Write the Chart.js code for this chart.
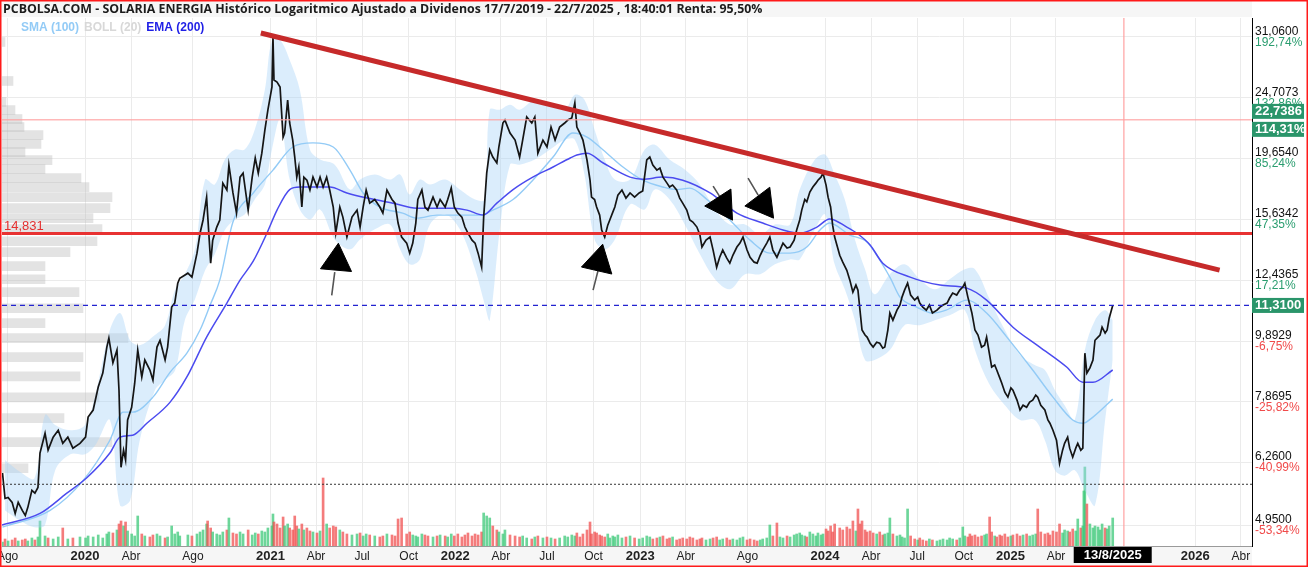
<!DOCTYPE html>
<html>
<head>
<meta charset="utf-8">
<title>Solaria Energia - PCBOLSA</title>
<script src="https://cdn.jsdelivr.net/npm/chart.js@4.4.0/dist/chart.umd.min.js"></script>
<style>
  html, body { margin: 0; padding: 0; background: #fff; }
  #wrap { width: 1308px; height: 567px; }
</style>
</head>
<body>
<div id="wrap"><canvas id="solariaChart" width="1308" height="567"></canvas></div>
<script>
// Closing prices (log chart, adjusted for dividends)
const priceDates = [
  '2019-07-22','2019-07-27','2019-08-02','2019-08-10','2019-08-16','2019-08-22','2019-08-30','2019-09-05','2019-09-10','2019-09-18','2019-09-24','2019-09-30','2019-10-04','2019-10-14','2019-10-20','2019-10-30','2019-11-09','2019-11-18','2019-11-28','2019-12-08','2019-12-22',
  '2020-01-02','2020-01-07','2020-01-17','2020-01-27','2020-02-05','2020-02-13','2020-02-17','2020-02-25','2020-03-04','2020-03-08','2020-03-12','2020-03-17','2020-03-21','2020-03-25','2020-04-02','2020-04-08','2020-04-14','2020-04-22','2020-04-28','2020-05-08','2020-05-14','2020-05-22','2020-05-28','2020-06-07','2020-06-12','2020-06-20','2020-06-26','2020-07-02','2020-07-06','2020-07-22','2020-07-30','2020-08-09','2020-08-15','2020-08-21','2020-08-28','2020-08-30','2020-09-05','2020-09-09','2020-09-17','2020-09-23','2020-09-29','2020-10-07','2020-10-11','2020-10-19','2020-10-26','2020-11-02','2020-11-08','2020-11-18','2020-11-26','2020-12-02','2020-12-08','2020-12-15','2020-12-21','2020-12-27',
  '2021-01-04','2021-01-06','2021-01-08','2021-01-14','2021-01-20','2021-01-26','2021-01-29','2021-02-04','2021-02-08','2021-02-14','2021-02-18','2021-02-22','2021-02-26','2021-03-04','2021-03-08','2021-03-14','2021-03-20','2021-03-26','2021-04-03','2021-04-09','2021-04-15','2021-04-22','2021-04-28','2021-05-05','2021-05-10','2021-05-18','2021-05-24','2021-06-01','2021-06-11','2021-06-21','2021-06-27','2021-07-03','2021-07-09','2021-07-16','2021-07-26','2021-08-05','2021-08-11','2021-08-19','2021-08-29','2021-09-04','2021-09-10','2021-09-17','2021-09-27','2021-10-03','2021-10-09','2021-10-15','2021-10-19','2021-10-27','2021-11-02','2021-11-08','2021-11-18','2021-11-26','2021-12-02','2021-12-12','2021-12-17','2021-12-24','2021-12-30',
  '2022-01-06','2022-01-14','2022-01-20','2022-01-26','2022-02-03','2022-02-09','2022-02-15','2022-02-22','2022-02-26','2022-03-04','2022-03-10','2022-03-16','2022-03-24','2022-03-28','2022-04-05','2022-04-09','2022-04-19','2022-04-29','2022-05-08','2022-05-14','2022-05-22','2022-06-01','2022-06-07','2022-06-13','2022-06-23','2022-07-01','2022-07-09','2022-07-17','2022-07-26','2022-08-05','2022-08-11','2022-08-19','2022-08-25','2022-08-29','2022-09-04','2022-09-10','2022-09-18','2022-09-24','2022-09-27','2022-10-03','2022-10-07','2022-10-13','2022-10-17','2022-10-23','2022-10-29','2022-11-02','2022-11-08','2022-11-12','2022-11-18','2022-11-26','2022-12-04','2022-12-12','2022-12-21','2022-12-30',
  '2023-01-06','2023-01-14','2023-01-20','2023-01-26','2023-02-03','2023-02-09','2023-02-15','2023-02-23','2023-02-28','2023-03-06','2023-03-14','2023-03-20','2023-03-26','2023-04-03','2023-04-09','2023-04-15','2023-04-23','2023-04-29','2023-05-03','2023-05-11','2023-05-19','2023-05-25','2023-06-01','2023-06-07','2023-06-13','2023-06-21','2023-06-27','2023-07-03','2023-07-11','2023-07-17','2023-07-23','2023-07-31','2023-08-06','2023-08-14','2023-08-20','2023-08-26','2023-08-31','2023-09-08','2023-09-14','2023-09-20','2023-09-28','2023-10-04','2023-10-10','2023-10-18','2023-10-24','2023-11-01','2023-11-06','2023-11-12','2023-11-16','2023-11-22','2023-11-26','2023-12-02','2023-12-08','2023-12-14','2023-12-18','2023-12-24','2023-12-28',
  '2024-01-03','2024-01-07','2024-01-12','2024-01-16','2024-01-20','2024-01-30','2024-02-05','2024-02-13','2024-02-19','2024-02-25','2024-03-02','2024-03-06','2024-03-10','2024-03-14','2024-03-20','2024-03-24','2024-03-30','2024-04-05','2024-04-12','2024-04-18','2024-04-24','2024-04-28','2024-05-04','2024-05-08','2024-05-14','2024-05-22','2024-05-28','2024-06-01','2024-06-06','2024-06-12','2024-06-18','2024-06-26','2024-07-02','2024-07-06','2024-07-12','2024-07-19','2024-07-25','2024-07-31','2024-08-09','2024-08-15','2024-08-21','2024-08-29','2024-09-03','2024-09-09','2024-09-17','2024-09-23','2024-09-29','2024-10-03','2024-10-09','2024-10-13','2024-10-17','2024-10-23','2024-10-29','2024-11-05','2024-11-11','2024-11-15','2024-11-21','2024-11-25','2024-12-01','2024-12-05','2024-12-11','2024-12-15','2024-12-21','2024-12-27',
  '2025-01-02','2025-01-06','2025-01-14','2025-01-20','2025-01-26','2025-02-02','2025-02-08','2025-02-14','2025-02-20','2025-02-24','2025-03-02','2025-03-10','2025-03-16','2025-03-20','2025-03-26','2025-04-02','2025-04-08','2025-04-14','2025-04-18','2025-04-24','2025-04-28','2025-05-04','2025-05-10','2025-05-14','2025-05-20','2025-05-24','2025-05-26','2025-05-28','2025-06-01','2025-06-07','2025-06-13','2025-06-17','2025-06-23','2025-06-27','2025-07-01','2025-07-07','2025-07-11','2025-07-15','2025-07-22'
];
const priceClose = [
  6.02,5.47,5.49,5.39,5.17,5.39,5.23,5.13,5.29,5.64,5.58,5.70,6.49,6.99,6.56,6.89,7.07,6.73,6.89,6.61,6.73,
  6.89,7.43,7.63,8.32,8.77,9.67,10.00,9.11,9.56,8.22,6.15,6.56,6.32,7.35,7.71,8.44,9.56,8.64,9.21,8.87,8.54,9.67,9.92,9.21,9.67,11.24,11.41,12.30,12.53,12.77,12.58,13.77,14.84,15.60,17.00,15.93,13.26,14.46,15.19,15.60,17.92,17.46,19.18,17.27,16.01,18.33,18.61,16.19,18.33,19.70,18.61,20.06,21.88,23.60,
  25.73,31.06,26.42,26.22,25.73,21.31,21.64,24.50,22.47,21.07,19.77,18.33,19.04,16.38,18.33,18.12,17.46,18.33,17.66,18.33,17.66,18.33,17.46,16.38,14.85,16.38,15.77,14.63,15.77,16.19,15.19,16.38,17.46,16.62,16.85,16.38,16.01,17.46,16.85,16.62,15.42,14.63,14.30,13.77,14.30,15.42,16.85,17.46,16.38,16.19,17.00,16.38,16.85,16.38,16.85,17.59,16.38,
  16.01,15.77,15.19,14.85,14.46,14.30,13.77,13.06,15.77,18.61,20.30,19.77,19.33,20.53,22.47,22.72,21.64,21.07,19.77,21.07,22.98,22.47,22.98,20.06,21.07,20.53,22.13,21.07,22.13,22.47,22.72,22.90,24.22,22.13,21.64,21.07,19.55,18.12,17.00,16.85,16.38,15.89,15.02,14.63,15.30,15.60,16.07,16.38,17.13,17.46,16.94,17.27,17.00,17.27,
  17.40,19.55,19.77,19.18,18.82,18.96,18.33,17.92,17.66,17.79,17.46,16.94,16.62,16.19,15.60,15.48,15.19,14.74,14.09,14.46,14.63,13.93,13.06,13.56,13.93,13.51,13.26,13.66,14.09,14.30,14.63,13.93,13.56,13.31,13.26,13.66,13.93,14.30,14.63,13.93,13.56,13.93,14.30,14.04,14.09,14.46,15.02,15.60,16.19,16.85,16.70,17.33,17.66,17.92,18.12,18.33,18.61,
  17.79,17.00,16.38,15.30,14.63,13.66,13.31,12.91,12.44,11.89,12.21,11.98,11.11,10.31,10.12,10.04,9.81,9.67,9.85,9.81,9.63,9.67,10.31,10.99,10.70,11.11,11.33,11.67,11.98,12.30,11.76,11.54,11.67,11.41,11.24,11.11,11.33,10.99,11.11,11.24,11.33,11.41,11.63,11.85,11.76,11.98,12.12,12.30,11.67,11.33,10.99,10.31,10.12,9.67,9.74,10.04,9.38,8.97,9.04,8.87,8.61,8.44,8.16,8.01,
  8.29,8.22,7.92,7.63,7.77,7.71,7.86,7.92,8.07,8.01,7.77,7.63,7.35,7.26,7.07,6.81,6.24,6.56,6.73,6.89,6.61,6.39,6.61,6.73,6.56,6.61,7.92,9.45,8.77,8.94,9.21,9.92,10.04,10.12,10.42,10.19,10.31,10.78,11.31
];
// Volume in millions of shares, one bar per close above
const volumeM = [
  0.4,0.7,0.5,0.6,0.8,0.5,0.6,0.7,0.5,0.8,0.6,0.9,2.5,1.0,0.8,0.7,0.9,1.8,0.7,0.8,0.9,
  0.8,1.0,0.9,1.1,0.8,1.2,1.4,1.3,1.6,2.2,2.5,2.0,2.4,1.5,1.2,1.0,3.0,1.2,1.0,0.9,1.1,1.2,1.0,0.8,0.9,2.0,1.2,1.4,1.0,1.1,1.0,1.2,1.4,1.6,2.2,2.5,1.8,1.4,1.2,1.1,1.4,1.6,2.8,1.3,1.2,1.4,1.2,1.6,1.1,1.3,1.2,1.5,1.4,1.8,
  2.0,3.2,2.4,2.2,1.8,2.9,2.0,2.2,1.8,1.6,3.0,2.0,1.7,2.2,1.6,1.8,1.5,1.4,1.3,1.5,6.8,2.2,1.8,2.0,1.9,1.6,1.4,1.2,1.1,1.2,1.3,1.0,1.2,1.1,1.0,0.9,1.0,1.2,1.1,1.0,2.7,2.8,1.2,1.4,1.1,1.0,0.9,1.2,1.1,1.0,0.9,1.0,1.1,1.0,0.9,1.2,1.0,
  1.2,0.9,1.1,1.3,1.0,1.2,1.1,1.4,3.3,3.0,2.8,2.0,1.6,1.4,1.2,1.6,1.1,1.0,0.9,1.0,0.8,0.7,0.9,1.0,0.8,0.9,0.8,0.7,0.8,1.0,0.9,1.1,1.0,1.3,0.9,1.2,1.6,2.4,1.2,1.4,1.3,1.1,1.0,0.9,1.2,0.8,1.0,0.9,1.1,0.8,0.9,1.0,0.8,0.7,
  0.8,1.0,0.9,0.7,0.8,0.9,1.0,0.7,0.8,0.9,0.6,0.7,0.8,0.7,0.9,0.8,0.6,0.7,0.8,0.6,0.7,0.8,0.9,0.6,0.7,0.8,0.6,0.7,0.6,0.8,0.9,0.6,0.7,0.6,0.5,0.6,0.7,0.8,2.1,1.0,2.3,0.9,0.8,1.0,0.9,1.1,1.2,1.3,1.1,1.0,0.9,1.4,1.2,1.0,1.3,1.1,1.2,
  1.7,1.5,2.0,1.4,2.2,1.8,1.6,1.9,1.7,2.5,1.5,3.7,2.2,2.5,1.6,1.4,1.5,1.3,1.2,1.4,1.1,1.2,1.3,2.8,1.2,1.0,1.1,0.9,0.8,3.7,1.0,0.7,0.6,0.8,0.6,0.5,0.7,0.6,0.5,0.6,0.7,0.6,0.8,0.7,0.6,0.8,1.9,1.0,0.9,1.2,1.0,1.1,0.9,1.0,1.1,1.2,2.9,1.4,1.0,0.9,1.1,1.0,1.2,0.9,
  1.0,1.1,1.2,1.0,1.1,1.2,1.0,1.1,1.2,3.7,1.4,1.2,1.3,1.1,1.5,1.4,2.2,1.3,1.6,1.5,1.4,1.7,1.5,2.7,1.8,2.0,5.5,7.9,4.2,2.2,1.8,2.0,1.9,1.6,2.2,1.8,1.7,2.0,2.8
];

// SMA (100)
const smaDates = ['2019-07-22','2019-10-24','2019-12-28','2020-02-19','2020-03-16','2020-04-04','2020-05-14','2020-06-17','2020-07-20','2020-08-15','2020-09-04','2020-09-23','2020-10-19','2020-11-28','2021-01-06','2021-02-14','2021-03-26','2021-05-05','2021-06-07','2021-07-03','2021-08-05','2021-09-19','2021-10-17','2021-11-26','2022-01-10','2022-02-19','2022-03-16','2022-04-25','2022-06-03','2022-07-13','2022-08-21','2022-09-18','2022-10-20','2022-11-28','2023-01-06','2023-02-15','2023-03-14','2023-04-09','2023-05-13','2023-06-27','2023-08-06','2023-09-14','2023-10-24','2023-11-26','2023-12-22','2024-01-10','2024-02-19','2024-03-24','2024-05-08','2024-05-28','2024-06-30','2024-07-31','2024-08-27','2024-10-07','2024-11-15','2024-12-25','2025-02-14','2025-03-26','2025-05-04','2025-05-24','2025-06-13','2025-07-22'];
const smaValues = [4.91,5.23,5.85,6.81,7.57,7.57,8.01,8.80,9.45,10.31,11.33,12.44,15.48,17.27,18.82,20.53,20.85,20.53,18.82,17.27,16.38,16.01,15.71,15.89,15.89,15.89,16.19,16.85,18.12,19.77,21.64,21.31,20.30,19.04,18.12,17.66,17.49,17.59,16.85,15.60,14.46,13.77,13.77,14.09,15.02,15.42,14.74,14.35,12.58,11.67,11.24,10.99,11.11,11.54,10.99,10.04,8.87,8.01,7.35,7.26,7.43,7.95];

// EMA (200)
const emaDates = ['2019-07-21','2019-10-04','2019-11-26','2020-01-05','2020-02-19','2020-03-10','2020-04-04','2020-05-02','2020-06-17','2020-07-20','2020-08-28','2020-10-07','2020-11-02','2020-11-28','2020-12-25','2021-01-14','2021-02-08','2021-02-28','2021-04-28','2021-06-01','2021-07-11','2021-08-31','2021-10-17','2021-12-28','2022-01-24','2022-02-25','2022-03-24','2022-04-25','2022-06-03','2022-07-13','2022-08-16','2022-08-29','2022-09-18','2022-10-20','2022-12-12','2023-01-06','2023-02-15','2023-03-26','2023-05-19','2023-07-11','2023-08-31','2023-10-10','2023-11-12','2023-12-16','2024-01-10','2024-02-13','2024-03-04','2024-03-30','2024-04-24','2024-06-17','2024-08-15','2024-10-07','2024-11-15','2025-01-06','2025-02-28','2025-04-22','2025-05-24','2025-06-13','2025-07-22'];
const emaValues = [4.95,5.17,5.58,5.92,6.49,6.89,6.94,7.26,7.86,8.64,10.04,11.41,12.44,13.36,14.84,16.19,17.49,17.66,17.66,17.27,16.94,16.62,16.30,16.30,16.19,15.89,16.62,17.49,18.33,19.04,19.70,19.92,20.06,19.33,18.33,18.19,18.33,18.12,17.27,16.01,15.42,15.02,14.84,15.19,15.66,15.19,14.84,14.20,13.26,12.58,12.21,12.07,11.54,10.42,9.67,8.97,8.47,8.47,8.87];

// BOLL (20) upper / lower band
const bollDates = ['2019-07-27','2019-08-26','2019-09-23','2019-10-14','2019-11-03','2019-12-03','2020-01-01','2020-01-21','2020-02-19','2020-03-10','2020-03-30','2020-04-18','2020-05-18','2020-06-07','2020-06-27','2020-07-16','2020-08-05','2020-08-25','2020-09-13','2020-10-03','2020-10-23','2020-11-11','2020-12-01','2020-12-21','2021-01-04','2021-01-20','2021-02-08','2021-02-28','2021-03-20','2021-04-09','2021-05-08','2021-06-07','2021-06-27','2021-07-26','2021-08-25','2021-09-14','2021-10-03','2021-10-23','2021-11-12','2021-12-12','2022-01-10','2022-02-09','2022-02-28','2022-03-10','2022-03-30','2022-04-19','2022-05-08','2022-06-07','2022-07-07','2022-08-05','2022-08-25','2022-09-13','2022-10-03','2022-10-23','2022-11-12','2022-12-12','2023-01-10','2023-01-30','2023-02-28','2023-03-30','2023-04-29','2023-05-29','2023-06-27','2023-07-27','2023-08-26','2023-09-24','2023-10-24','2023-11-12','2023-12-12','2024-01-01','2024-01-20','2024-02-09','2024-02-29','2024-03-20','2024-04-08','2024-05-08','2024-06-06','2024-07-06','2024-08-05','2024-09-03','2024-10-03','2024-10-23','2024-11-21','2024-12-21','2025-01-20','2025-02-18','2025-03-10','2025-03-30','2025-04-18','2025-05-08','2025-05-28','2025-06-17','2025-07-07','2025-07-22'];
const bollUpper = [6.32,6.04,5.90,7.49,7.21,7.07,7.21,8.07,10.31,10.99,9.92,9.74,10.12,10.50,12.02,12.72,13.97,18.16,17.83,19.58,20.33,20.33,21.91,25.46,30.71,30.71,28.49,25.46,20.33,19.58,19.21,17.49,18.16,18.51,18.16,18.51,17.17,18.16,17.83,18.16,17.49,16.85,16.85,23.62,23.62,24.06,23.62,24.52,24.06,23.62,24.98,24.52,21.91,19.58,18.16,18.16,20.33,20.71,19.58,18.86,17.83,16.23,15.34,15.34,14.78,15.34,15.34,17.49,19.58,19.95,18.51,16.85,14.50,12.96,11.80,12.72,13.20,12.48,12.02,12.48,12.96,12.96,11.58,10.31,9.38,9.04,8.87,8.22,7.77,7.35,9.56,10.70,11.11,10.70];
const bollLower = [5.23,5.03,4.91,4.95,6.08,6.46,6.46,6.68,7.35,5.33,5.43,6.81,8.22,8.54,8.87,10.70,11.58,12.91,13.71,15.02,15.63,15.93,16.85,17.83,20.33,22.75,18.16,16.23,15.63,16.23,14.50,13.97,14.50,15.06,15.34,13.97,13.20,13.45,15.34,15.93,15.06,12.96,11.36,10.70,15.06,19.21,19.21,19.58,20.33,21.10,21.10,18.51,14.50,13.97,14.50,16.54,16.23,17.49,16.85,15.34,13.71,12.48,12.02,12.72,12.72,13.20,13.45,13.45,15.06,15.93,13.20,12.02,10.70,9.21,9.21,9.56,10.50,10.50,10.70,10.90,11.11,9.56,8.39,7.77,7.35,7.35,6.81,6.08,5.96,6.08,5.64,5.33,7.35,9.21];

// Volume by price (left histogram)
const profilePrices = [30.48,26.32,24.32,23.59,22.81,22.13,21.47,20.76,20.14,19.54,18.89,18.26,17.65,17.00,16.31,15.71,15.07,14.40,13.82,13.11,12.48,11.89,11.19,10.58,10.00,9.31,8.66,8.00,7.40,6.76,6.13];
const profileVolume = [3,11,4,13,20,22,41,39,23,50,43,79,87,110,108,91,100,95,68,43,43,77,81,43,126,81,78,97,62,110,26];

// Right axis ticks
const yTickValues = [31.06,24.7073,19.654,15.6342,12.4365,9.8929,7.8695,6.26,4.95];
const yTickLabels = ['31,0600','24,7073','19,6540','15,6342','12,4365','9,8929','7,8695','6,2600','4,9500'];
const yTickPct = ['192,74%','132,86%','85,24%','47,35%','17,21%','-6,75%','-25,82%','-40,99%','-53,34%'];

// Bottom axis ticks
const xTickDates = ['2019-08-01','2020-01-01','2020-04-01','2020-08-01','2021-01-01','2021-04-01','2021-07-01','2021-10-01','2022-01-01','2022-04-01','2022-07-01','2022-10-01','2023-01-01','2023-04-01','2023-08-01','2024-01-01','2024-04-01','2024-07-01','2024-10-01','2025-01-01','2025-04-01','2026-01-01','2026-04-01'];
const xTickLabels = ['Ago','2020','Abr','Ago','2021','Abr','Jul','Oct','2022','Abr','Jul','Oct','2023','Abr','Ago','2024','Abr','Jul','Oct','2025','Abr','2026','Abr'];

// Drawn studies
const trendDates = ['2020-12-13','2026-02-18'];
const trendValues = [31.53,12.92];
const supportLevel = 14.831;
const refLevel = 22.7386;
const refPct = '114,31%';
const lastLevel = 11.31;
const floorLevel = 5.77;
const cursorDate = '2025-08-13';
const arrowDates = ['2021-05-12','2022-10-11','2023-06-13','2023-08-31'];
const arrowPrices = [13.36,13.33,16.50,16.58];
const arrowRotation = [5,13,-93,-97];
const tailFromDates = ['2021-05-08','2022-10-10','2023-05-25','2023-08-02'];
const tailFromPrices = [12.82,12.91,17.72,18.26];
const tailToDates = ['2021-05-02','2022-09-30','2023-06-09','2023-08-22'];
const tailToPrices = [11.75,11.98,16.94,17.13];

const titleText = 'PCBOLSA.COM - SOLARIA ENERGIA Histórico Logaritmico Ajustado a Dividenos 17/7/2019 - 22/7/2025 , 18:40:01 Renta: 95,50%';
const xStart = '2019-07-21';
const xEnd = '2026-04-23';
const yMin = 4.574;
const yMax = 33.36;

// day number from 'YYYY-MM-DD'
function day(s) {
    return Date.UTC(+s.slice(0, 4), +s.slice(5, 7) - 1, +s.slice(8, 10)) / 864e5;
}
function pts(dates, values) {
    return dates.map((d, i) => ({ x: day(d), y: values[i] }));
}

const volumeColors = priceClose.map((c, i) =>
    i > 0 && c < priceClose[i - 1] ? 'rgba(240,80,80,0.75)' : 'rgba(60,200,120,0.75)');

const tailPoints = [];
tailFromDates.forEach((d, i) => {
    tailPoints.push({ x: day(d), y: tailFromPrices[i] });
    tailPoints.push({ x: day(tailToDates[i]), y: tailToPrices[i] });
    tailPoints.push({ x: day(tailToDates[i]), y: null });
});

const AXIS_FONT = 'Arial, "Liberation Sans", sans-serif';

// Labels, boxes, title and frame drawn over the chart
const overlayPlugin = {
    id: 'pcbolsaOverlay',
    beforeDraw(chart) {
        const { ctx, chartArea: a, width, height } = chart;
        ctx.save();
        ctx.fillStyle = '#fff';
        ctx.fillRect(0, 0, width, height);
        ctx.fillStyle = '#f6f6f6';
        ctx.fillRect(0, 0, a.right, 17);
        ctx.fillRect(0, a.bottom, a.right, height - a.bottom);
        ctx.restore();
    },
    afterDraw(chart) {
        const { ctx, chartArea: a, width, height } = chart;
        const y = chart.scales.y;
        const x = chart.scales.x;
        const lx = a.right + 3;
        ctx.save();

        // right axis: price and % change
        ctx.textAlign = 'left';
        ctx.textBaseline = 'middle';
        ctx.font = '12px ' + AXIS_FONT;
        yTickValues.forEach((v, i) => {
            const py = y.getPixelForValue(v);
            ctx.fillStyle = '#111';
            ctx.fillText(yTickLabels[i], lx, py - 5.5);
            ctx.fillStyle = yTickPct[i].startsWith('-') ? '#f04a4a' : '#2a9d6f';
            ctx.fillText(yTickPct[i], lx, py + 5.5);
        });

        // highlighted values
        ctx.font = 'bold 13px ' + AXIS_FONT;
        const boxW = width - a.right - 4;
        const ry = y.getPixelForValue(refLevel);
        ctx.fillStyle = '#2a956a';
        ctx.fillRect(a.right, ry - 16, boxW, 15);
        ctx.fillRect(a.right, ry + 2, boxW, 15);
        const ly = y.getPixelForValue(lastLevel);
        ctx.fillRect(a.right, ly - 7.5, boxW, 15);
        ctx.fillStyle = '#fff';
        ctx.fillText(refLevel.toFixed(4).replace('.', ','), lx, ry - 8.5);
        ctx.fillText(refPct, lx, ry + 9.5);
        ctx.fillText(lastLevel.toFixed(4).replace('.', ','), lx, ly);

        // support label
        ctx.font = '13px ' + AXIS_FONT;
        ctx.fillStyle = '#e53030';
        ctx.fillText(supportLevel.toFixed(3).replace('.', ','), 4, y.getPixelForValue(supportLevel) - 7);

        // cursor date box
        const cx = x.getPixelForValue(day(priceDates[priceDates.length - 1]));
        ctx.fillStyle = '#000';
        ctx.fillRect(cx - 39, a.bottom + 1, 78, 16);
        ctx.fillStyle = '#fff';
        ctx.font = 'bold 13px ' + AXIS_FONT;
        ctx.textAlign = 'center';
        const cd = cursorDate.split('-');
        ctx.fillText(+cd[2] + '/' + +cd[1] + '/' + cd[0], cx, a.bottom + 9);

        // title
        ctx.textAlign = 'left';
        ctx.font = 'bold 12px "Open Sans", Arial, sans-serif';
        const tw = ctx.measureText(titleText).width;
        ctx.font = 'bold ' + (12 * 760 / tw).toFixed(2) + 'px "Open Sans", Arial, sans-serif';
        ctx.fillStyle = '#1c1c1c';
        ctx.fillText(titleText, 3, 9);

        // legend
        ctx.font = 'bold 12px ' + AXIS_FONT;
        const legend = [['SMA (100)', '#93cbf6'], ['BOLL (20)', '#d8d8d8'], ['EMA (200)', '#1f1fe6']];
        let tx = 21;
        legend.forEach(([txt, col]) => {
            ctx.fillStyle = col;
            ctx.fillText(txt, tx, 28);
            tx += ctx.measureText(txt).width + 5;
        });

        // frame
        ctx.strokeStyle = '#ff1a1a';
        ctx.lineWidth = 1.5;
        ctx.strokeRect(0.75, 0.75, width - 1.5, height - 1.5);
        ctx.restore();
    }
};

function hLine(value, color, width, dash, order) {
    return {
        type: 'line',
        data: [{ x: day(xStart), y: value }, { x: day(xEnd), y: value }],
        borderColor: color,
        borderWidth: width,
        borderDash: dash,
        pointRadius: 0,
        order: order
    };
}

function initSolariaChart() {
    const ctx = document.getElementById('solariaChart').getContext('2d');
    new Chart(ctx, {
        type: 'line',
        data: {
            datasets: [
                {
                    label: 'Flechas',
                    data: pts(arrowDates, arrowPrices),
                    showLine: false,
                    pointStyle: 'triangle',
                    pointRadius: 18,
                    pointRotation: arrowRotation,
                    pointBackgroundColor: '#000',
                    pointBorderColor: '#000',
                    pointBorderWidth: 1,
                    order: 0
                },
                {
                    label: 'Colas',
                    data: tailPoints,
                    borderColor: '#555',
                    borderWidth: 1.6,
                    pointRadius: 0,
                    spanGaps: false,
                    order: 1
                },
                {
                    label: 'Tendencia',
                    data: pts(trendDates, trendValues),
                    borderColor: '#c62a2a',
                    borderWidth: 5,
                    pointRadius: 0,
                    order: 2
                },
                hLine(supportLevel, '#e83232', 3, [], 3),
                hLine(refLevel, 'rgba(255,160,160,0.75)', 1.5, [], 3),
                hLine(lastLevel, '#2323d0', 1.2, [5, 4], 3),
                hLine(floorLevel, '#333', 1, [2, 2], 3),
                {
                    label: 'Cursor',
                    data: [{ x: day(cursorDate), y: yMin }, { x: day(cursorDate), y: yMax }],
                    borderColor: 'rgba(255,160,160,0.8)',
                    borderWidth: 1.5,
                    pointRadius: 0,
                    order: 3
                },
                {
                    label: 'Cierre',
                    data: pts(priceDates, priceClose),
                    borderColor: '#151515',
                    borderWidth: 1.7,
                    pointRadius: 0,
                    tension: 0,
                    order: 4
                },
                {
                    label: 'EMA (200)',
                    data: pts(emaDates, emaValues),
                    borderColor: '#4b4bef',
                    borderWidth: 1.5,
                    pointRadius: 0,
                    cubicInterpolationMode: 'monotone',
                    order: 5
                },
                {
                    label: 'SMA (100)',
                    data: pts(smaDates, smaValues),
                    borderColor: '#93cbf6',
                    borderWidth: 1.4,
                    pointRadius: 0,
                    cubicInterpolationMode: 'monotone',
                    order: 6
                },
                {
                    label: 'BOLL sup',
                    data: pts(bollDates, bollUpper),
                    borderWidth: 0,
                    borderColor: 'rgba(0,0,0,0)',
                    backgroundColor: 'rgba(170,212,247,0.42)',
                    fill: '+1',
                    pointRadius: 0,
                    tension: 0.35,
                    order: 7
                },
                {
                    label: 'BOLL inf',
                    data: pts(bollDates, bollLower),
                    borderWidth: 0,
                    borderColor: 'rgba(0,0,0,0)',
                    fill: false,
                    pointRadius: 0,
                    tension: 0.35,
                    order: 7
                },
                {
                    type: 'bar',
                    label: 'Volumen',
                    data: pts(priceDates, volumeM),
                    yAxisID: 'yv',
                    backgroundColor: volumeColors,
                    barThickness: 2,
                    grouped: false,
                    order: 8
                },
                {
                    type: 'bar',
                    label: 'Volumen por precio',
                    indexAxis: 'y',
                    data: profilePrices.map((p, i) => ({ x: profileVolume[i], y: p })),
                    xAxisID: 'xp',
                    yAxisID: 'y',
                    backgroundColor: 'rgba(185,185,185,0.4)',
                    barThickness: 9,
                    grouped: false,
                    order: 9
                }
            ]
        },
        options: {
            responsive: false,
            animation: false,
            devicePixelRatio: 1,
            events: [],
            layout: { autoPadding: false, padding: { top: 18, left: 2, right: 56, bottom: 0 } },
            plugins: {
                legend: { display: false },
                tooltip: { enabled: false }
            },
            scales: {
                x: {
                    type: 'linear',
                    position: 'bottom',
                    offset: false,
                    min: day(xStart),
                    max: day(xEnd),
                    bounds: 'data',
                    afterBuildTicks: function(scale) {
                        scale.ticks = xTickDates.map(d => ({ value: day(d) }));
                    },
                    afterFit: function(scale) {
                        scale.height = 21;
                        scale.paddingLeft = 0;
                        scale.paddingRight = 0;
                    },
                    grid: { color: '#ebebeb', drawTicks: false, offset: false },
                    border: { color: '#9a9a9a' },
                    ticks: {
                        autoSkip: false,
                        maxRotation: 0,
                        padding: 3,
                        color: '#222',
                        font: function(c) {
                            const bold = /^\d{4}$/.test(xTickLabels[c.index] || '');
                            return { family: AXIS_FONT, size: bold ? 13 : 12, weight: bold ? 'bold' : 'normal' };
                        },
                        callback: function(value, index) {
                            return xTickLabels[index];
                        }
                    }
                },
                y: {
                    type: 'logarithmic',
                    position: 'right',
                    offset: false,
                    min: yMin,
                    max: yMax,
                    bounds: 'data',
                    afterBuildTicks: function(scale) {
                        scale.ticks = yTickValues.map(v => ({ value: v }));
                    },
                    afterFit: function(scale) {
                        scale.width = 0;
                        scale.paddingTop = 0;
                        scale.paddingBottom = 0;
                    },
                    grid: { color: '#ebebeb', drawTicks: false, offset: false },
                    border: { color: '#000', width: 1 },
                    ticks: { display: false }
                },
                yv: {
                    type: 'linear',
                    display: false,
                    min: 0,
                    max: 52.8
                },
                xp: {
                    type: 'linear',
                    axis: 'x',
                    display: false,
                    min: 0,
                    max: 1250
                }
            }
        },
        plugins: [overlayPlugin]
    });
}

document.addEventListener('DOMContentLoaded', initSolariaChart);
</script>
</body>
</html>
